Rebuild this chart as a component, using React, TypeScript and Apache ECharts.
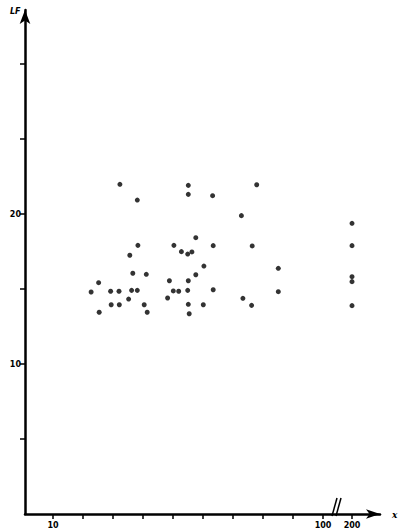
import React, { useEffect, useRef } from "react";
import * as echarts from "echarts";

// x values (the last five sit at x = 200, beyond the axis break)
const xValues = [
  32.3, 38.1, 55.1, 55.1, 63.2, 72.8, 57.6, 38.3, 50.3, 63.4,
  52.8, 54.9, 56.3, 35.6, 60.3, 36.6, 41.1, 57.6, 25.2, 48.8,
  55.1, 22.7, 29.2, 32.0, 36.2, 38.1, 50.1, 51.9, 54.9, 63.4,
  35.2, 48.2, 29.4, 32.1, 40.4, 55.1, 60.1, 25.4, 41.4, 55.4,
  77.9, 76.4, 85.1, 85.1, 73.3, 76.2,
  200, 200, 200, 200, 200,
];
const yValues = [
  21.98, 20.93, 21.91, 21.31, 21.22, 19.89, 18.42, 17.91, 17.91, 17.89,
  17.49, 17.33, 17.47, 17.25, 16.53, 16.05, 15.98, 15.95, 15.42, 15.55,
  15.55, 14.8, 14.85, 14.85, 14.91, 14.91, 14.87, 14.85, 14.91, 14.95,
  14.33, 14.4, 13.95, 13.95, 13.95, 13.98, 13.95, 13.45, 13.45, 13.35,
  21.95, 17.87, 16.38, 14.82, 14.38, 13.91,
  19.38, 17.89, 15.82, 15.49, 13.89,
];

const xTickValues = [10, 20, 30, 40, 50, 60, 70, 80, 90, 100, 200];
const xTickLabels = ["10", "100", "200"];
const yTickValues = [5, 10, 15, 20, 25, 30];
const yTickLabels = [10, 20];

// axis break: values above 100 are compressed onto a short stretch after the break
const BREAK_AT = 100;
const BREAK_SCALE = 0.0967;
const toAxis = (v: number) => (v <= BREAK_AT ? v : BREAK_AT + (v - BREAK_AT) * BREAK_SCALE);
const fromAxis = (a: number) => (a <= BREAK_AT + 1e-6 ? a : BREAK_AT + (a - BREAK_AT) / BREAK_SCALE);

export default function App() {
  const ref = useRef<HTMLDivElement>(null);
  useEffect(() => {
    if (!ref.current) return;
    const chart = echarts.init(ref.current, null, { renderer: "svg" });
    const data = xValues.map((x, i) => [toAxis(x), yValues[i]]);
    const labelAxisVals = xTickLabels.map((s) => toAxis(Number(s)));
    chart.setOption({
      animation: false,
      backgroundColor: "#ffffff",
      grid: { left: 25, right: 20, top: 10, bottom: 15 },
      xAxis: {
        type: "value",
        min: 10 - 28 / 3,
        max: 10 - 28 / 3 + 355 / 3,
        splitLine: { show: false },
        axisLine: {
          onZero: false,
          symbol: ["none", "arrow"],
          symbolSize: [7, 14],
          lineStyle: { color: "#000", width: 2.5 },
        },
        axisTick: {
          show: true,
          customValues: xTickValues.map(toAxis),
          length: 5,
          lineStyle: { color: "#000", width: 1.5 },
        },
        axisLabel: {
          customValues: labelAxisVals,
          formatter: (v: number) => String(Math.round(fromAxis(v))),
          color: "#000",
          fontSize: 8,
          fontWeight: "bold",
          fontFamily: "DejaVu Sans",
          margin: 7,
        },
      },
      yAxis: {
        type: "value",
        min: 0,
        max: 504 / 15,
        splitLine: { show: false },
        axisLine: {
          onZero: false,
          symbol: ["none", "arrow"],
          symbolSize: [8, 14],
          lineStyle: { color: "#000", width: 2.5 },
        },
        axisTick: {
          show: true,
          customValues: yTickValues,
          length: 5,
          lineStyle: { color: "#000", width: 1.5 },
        },
        axisLabel: {
          customValues: yTickLabels,
          color: "#000",
          fontSize: 8,
          fontWeight: "bold",
          fontFamily: "DejaVu Sans",
          margin: 4,
        },
      },
      series: [
        {
          type: "scatter",
          data,
          symbol: "circle",
          symbolSize: 5,
          itemStyle: { color: "#000" },
        },
      ],
      graphic: [
        {
          type: "text",
          left: 10,
          top: 7,
          style: { text: "LF", fontSize: 8, fontWeight: "bold", fontStyle: "italic", fill: "#000", fontFamily: "DejaVu Sans" },
        },
        {
          type: "text",
          left: 392,
          top: 510,
          style: { text: "x", fontSize: 9, fontWeight: "bold", fontStyle: "italic", fill: "#000", fontFamily: "DejaVu Serif" },
        },
        { type: "line", shape: { x1: 332, y1: 516, x2: 337, y2: 498 }, style: { stroke: "#000", lineWidth: 1.5 } },
        { type: "line", shape: { x1: 336, y1: 516, x2: 341, y2: 498 }, style: { stroke: "#000", lineWidth: 1.5 } },
      ],
    });
    return () => chart.dispose();
  }, []);
  return <div ref={ref} style={{ width: 400, height: 529, position: "absolute", left: 0, top: 0 }} />;
}
